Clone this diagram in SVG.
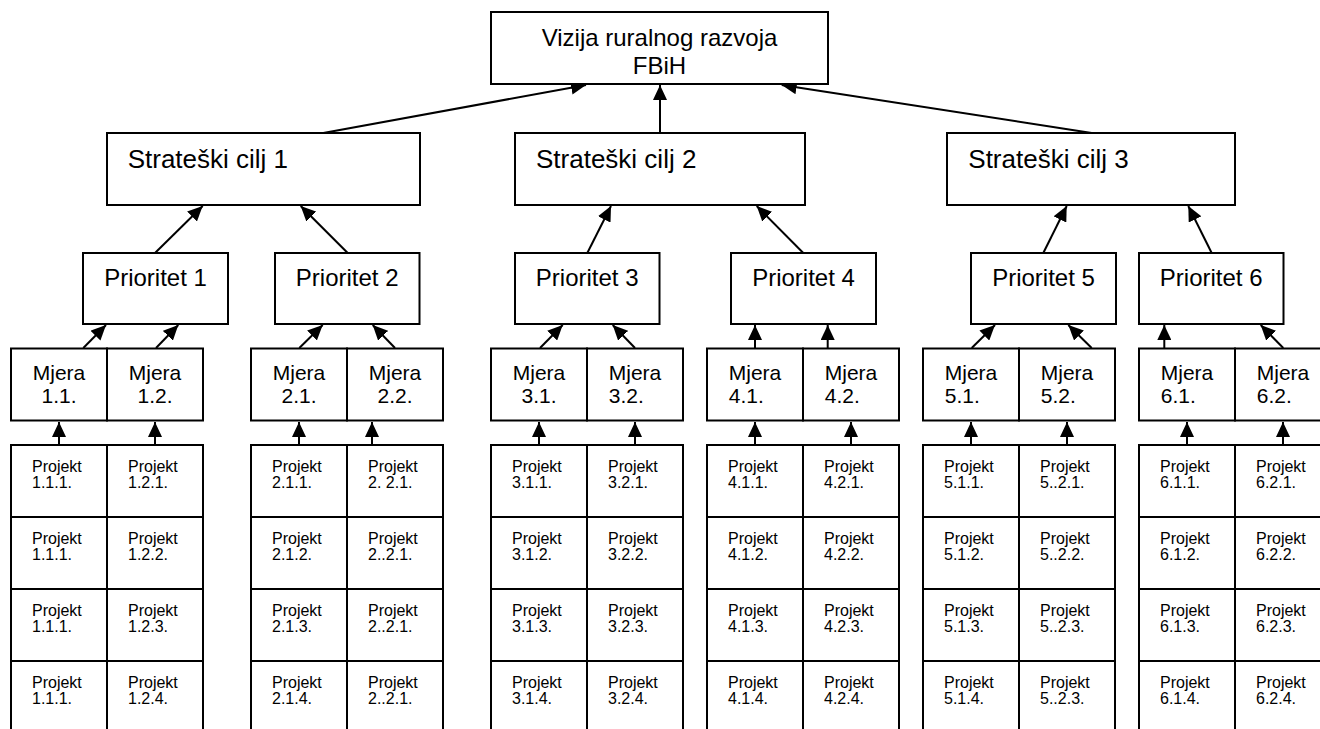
<svg xmlns="http://www.w3.org/2000/svg" width="1320" height="729" viewBox="0 0 1320 729">
<defs>
<marker id="ah" markerUnits="userSpaceOnUse" markerWidth="15" markerHeight="14" refX="15" refY="7" orient="auto">
<path d="M0,0 L15,7 L0,14 z" fill="#000"/>
</marker>
<style>
.box{fill:#fff;stroke:#000;stroke-width:2}
.c{stroke:#000;stroke-width:2;fill:none;marker-end:url(#ah)}
text{font-family:"Liberation Sans",Arial,sans-serif;fill:#000}
.f24{font-size:24px}.f26{font-size:26px}.f21{font-size:21px}.f16{font-size:16px}
.m{text-anchor:middle}
</style>
</defs>
<rect width="1320" height="729" fill="#fff"/>

<g id="connectors">
<line class="c" x1="323.3" y1="133" x2="586" y2="85"/>
<line class="c" x1="660" y1="133" x2="660" y2="85"/>
<line class="c" x1="1091.7" y1="133" x2="781.7" y2="85"/>
<line class="c" x1="155" y1="253" x2="202.7" y2="206"/>
<line class="c" x1="347.7" y1="253" x2="300.7" y2="206"/>
<line class="c" x1="587.3" y1="253" x2="611" y2="206"/>
<line class="c" x1="803.3" y1="253" x2="756.7" y2="206"/>
<line class="c" x1="1043.3" y1="253" x2="1066.7" y2="206"/>
<line class="c" x1="1211.7" y1="253" x2="1188.3" y2="206"/>
<line class="c" x1="83.3" y1="348" x2="106" y2="325"/>
<line class="c" x1="156" y1="348" x2="178.3" y2="325"/>
<line class="c" x1="299.3" y1="348" x2="322.7" y2="325"/>
<line class="c" x1="395" y1="348" x2="372.7" y2="325"/>
<line class="c" x1="540" y1="348" x2="562.7" y2="325"/>
<line class="c" x1="635" y1="348" x2="612.7" y2="325"/>
<line class="c" x1="755" y1="348" x2="755" y2="325"/>
<line class="c" x1="827.7" y1="348" x2="827.7" y2="325"/>
<line class="c" x1="971.7" y1="348" x2="995" y2="325"/>
<line class="c" x1="1091.7" y1="348" x2="1068.3" y2="325"/>
<line class="c" x1="1164.3" y1="348" x2="1164.3" y2="325"/>
<line class="c" x1="1283.3" y1="348" x2="1260.7" y2="325"/>
<line class="c" x1="59" y1="445" x2="59" y2="422"/>
<line class="c" x1="155" y1="445" x2="155" y2="422"/>
<line class="c" x1="299" y1="445" x2="299" y2="422"/>
<line class="c" x1="372" y1="445" x2="372" y2="422"/>
<line class="c" x1="539" y1="445" x2="539" y2="422"/>
<line class="c" x1="635" y1="445" x2="635" y2="422"/>
<line class="c" x1="755" y1="445" x2="755" y2="422"/>
<line class="c" x1="851" y1="445" x2="851" y2="422"/>
<line class="c" x1="971" y1="445" x2="971" y2="422"/>
<line class="c" x1="1067" y1="445" x2="1067" y2="422"/>
<line class="c" x1="1187" y1="445" x2="1187" y2="422"/>
<line class="c" x1="1283" y1="445" x2="1283" y2="422"/>
</g>

<g id="vizija"><rect class="box" x="491" y="12" width="337" height="72"/>
<text class="f24 m" x="659.5" y="46">Vizija ruralnog razvoja</text>
<text class="f24 m" x="659.5" y="74">FBiH</text></g>

<g id="cilj1"><rect class="box" x="107" y="133" width="313" height="72"/><text class="f26" x="127.7" y="168.3">Strateški cilj 1</text></g>
<g id="cilj2"><rect class="box" x="515" y="133" width="290" height="72"/><text class="f26" x="536" y="168.3">Strateški cilj 2</text></g>
<g id="cilj3"><rect class="box" x="947" y="133" width="288" height="72"/><text class="f26" x="968.3" y="168.3">Strateški cilj 3</text></g>

<g id="prioritet1"><rect class="box" x="83" y="253" width="145" height="71"/><text class="f24 m" x="155.5" y="286">Prioritet 1</text></g>
<g id="prioritet2"><rect class="box" x="275" y="253" width="144.5" height="71"/><text class="f24 m" x="347.2" y="286">Prioritet 2</text></g>
<g id="prioritet3"><rect class="box" x="515" y="253" width="144.5" height="71"/><text class="f24 m" x="587.2" y="286">Prioritet 3</text></g>
<g id="prioritet4"><rect class="box" x="731" y="253" width="145" height="71"/><text class="f24 m" x="803.5" y="286">Prioritet 4</text></g>
<g id="prioritet5"><rect class="box" x="971" y="253" width="145" height="71"/><text class="f24 m" x="1043.5" y="286">Prioritet 5</text></g>
<g id="prioritet6"><rect class="box" x="1139" y="253" width="144.5" height="71"/><text class="f24 m" x="1211.2" y="286">Prioritet 6</text></g>

<g id="mjera-1-1"><rect class="box" x="11" y="348.5" width="96" height="72"/><text class="f21 m" x="59" y="380">Mjera</text><text class="f21 m" x="59" y="403.3">1.1.</text></g>
<g id="mjera-1-2"><rect class="box" x="107" y="348.5" width="96" height="72"/><text class="f21 m" x="155" y="380">Mjera</text><text class="f21 m" x="155" y="403.3">1.2.</text></g>
<g id="mjera-2-1"><rect class="box" x="251" y="348.5" width="96" height="72"/><text class="f21 m" x="299" y="380">Mjera</text><text class="f21 m" x="299" y="403.3">2.1.</text></g>
<g id="mjera-2-2"><rect class="box" x="347" y="348.5" width="96" height="72"/><text class="f21 m" x="395" y="380">Mjera</text><text class="f21 m" x="395" y="403.3">2.2.</text></g>
<g id="mjera-3-1"><rect class="box" x="491" y="348.5" width="96" height="72"/><text class="f21 m" x="539" y="380">Mjera</text><text class="f21 m" x="539" y="403.3">3.1.</text></g>
<g id="mjera-3-2"><rect class="box" x="587" y="348.5" width="96" height="72"/><text class="f21 m" x="635" y="380">Mjera</text><text class="f21" x="608.8" y="403.3">3.2.</text></g>
<g id="mjera-4-1"><rect class="box" x="707" y="348.5" width="96" height="72"/><text class="f21 m" x="755" y="380">Mjera</text><text class="f21" x="728.8" y="403.3">4.1.</text></g>
<g id="mjera-4-2"><rect class="box" x="803" y="348.5" width="96" height="72"/><text class="f21 m" x="851" y="380">Mjera</text><text class="f21" x="824.8" y="403.3">4.2.</text></g>
<g id="mjera-5-1"><rect class="box" x="923" y="348.5" width="96" height="72"/><text class="f21 m" x="971" y="380">Mjera</text><text class="f21" x="944.8" y="403.3">5.1.</text></g>
<g id="mjera-5-2"><rect class="box" x="1019" y="348.5" width="96" height="72"/><text class="f21 m" x="1067" y="380">Mjera</text><text class="f21" x="1040.8" y="403.3">5.2.</text></g>
<g id="mjera-6-1"><rect class="box" x="1139" y="348.5" width="96" height="72"/><text class="f21 m" x="1187" y="380">Mjera</text><text class="f21" x="1160.8" y="403.3">6.1.</text></g>
<g id="mjera-6-2"><rect class="box" x="1235" y="348.5" width="96" height="72"/><text class="f21 m" x="1283" y="380">Mjera</text><text class="f21" x="1256.8" y="403.3">6.2.</text></g>

<g id="projekt-1-1-1"><rect class="box" x="11" y="445" width="96" height="72"/><text class="f16" x="32" y="471.7">Projekt</text><text class="f16" x="32" y="487.5">1.1.1.</text></g>
<g id="projekt-1-1-2"><rect class="box" x="11" y="517" width="96" height="72"/><text class="f16" x="32" y="543.7">Projekt</text><text class="f16" x="32" y="559.5">1.1.1.</text></g>
<g id="projekt-1-1-3"><rect class="box" x="11" y="589" width="96" height="72"/><text class="f16" x="32" y="615.7">Projekt</text><text class="f16" x="32" y="631.5">1.1.1.</text></g>
<g id="projekt-1-1-4"><rect class="box" x="11" y="661" width="96" height="72"/><text class="f16" x="32" y="687.7">Projekt</text><text class="f16" x="32" y="703.5">1.1.1.</text></g>

<g id="projekt-1-2-1"><rect class="box" x="107" y="445" width="96" height="72"/><text class="f16" x="128" y="471.7">Projekt</text><text class="f16" x="128" y="487.5">1.2.1.</text></g>
<g id="projekt-1-2-2"><rect class="box" x="107" y="517" width="96" height="72"/><text class="f16" x="128" y="543.7">Projekt</text><text class="f16" x="128" y="559.5">1.2.2.</text></g>
<g id="projekt-1-2-3"><rect class="box" x="107" y="589" width="96" height="72"/><text class="f16" x="128" y="615.7">Projekt</text><text class="f16" x="128" y="631.5">1.2.3.</text></g>
<g id="projekt-1-2-4"><rect class="box" x="107" y="661" width="96" height="72"/><text class="f16" x="128" y="687.7">Projekt</text><text class="f16" x="128" y="703.5">1.2.4.</text></g>

<g id="projekt-2-1-1"><rect class="box" x="251" y="445" width="96" height="72"/><text class="f16" x="272" y="471.7">Projekt</text><text class="f16" x="272" y="487.5">2.1.1.</text></g>
<g id="projekt-2-1-2"><rect class="box" x="251" y="517" width="96" height="72"/><text class="f16" x="272" y="543.7">Projekt</text><text class="f16" x="272" y="559.5">2.1.2.</text></g>
<g id="projekt-2-1-3"><rect class="box" x="251" y="589" width="96" height="72"/><text class="f16" x="272" y="615.7">Projekt</text><text class="f16" x="272" y="631.5">2.1.3.</text></g>
<g id="projekt-2-1-4"><rect class="box" x="251" y="661" width="96" height="72"/><text class="f16" x="272" y="687.7">Projekt</text><text class="f16" x="272" y="703.5">2.1.4.</text></g>

<g id="projekt-2-2-1"><rect class="box" x="347" y="445" width="96" height="72"/><text class="f16" x="368" y="471.7">Projekt</text><text class="f16" x="368" y="487.5">2. 2.1.</text></g>
<g id="projekt-2-2-2"><rect class="box" x="347" y="517" width="96" height="72"/><text class="f16" x="368" y="543.7">Projekt</text><text class="f16" x="368" y="559.5">2..2.1.</text></g>
<g id="projekt-2-2-3"><rect class="box" x="347" y="589" width="96" height="72"/><text class="f16" x="368" y="615.7">Projekt</text><text class="f16" x="368" y="631.5">2..2.1.</text></g>
<g id="projekt-2-2-4"><rect class="box" x="347" y="661" width="96" height="72"/><text class="f16" x="368" y="687.7">Projekt</text><text class="f16" x="368" y="703.5">2..2.1.</text></g>

<g id="projekt-3-1-1"><rect class="box" x="491" y="445" width="96" height="72"/><text class="f16" x="512" y="471.7">Projekt</text><text class="f16" x="512" y="487.5">3.1.1.</text></g>
<g id="projekt-3-1-2"><rect class="box" x="491" y="517" width="96" height="72"/><text class="f16" x="512" y="543.7">Projekt</text><text class="f16" x="512" y="559.5">3.1.2.</text></g>
<g id="projekt-3-1-3"><rect class="box" x="491" y="589" width="96" height="72"/><text class="f16" x="512" y="615.7">Projekt</text><text class="f16" x="512" y="631.5">3.1.3.</text></g>
<g id="projekt-3-1-4"><rect class="box" x="491" y="661" width="96" height="72"/><text class="f16" x="512" y="687.7">Projekt</text><text class="f16" x="512" y="703.5">3.1.4.</text></g>

<g id="projekt-3-2-1"><rect class="box" x="587" y="445" width="96" height="72"/><text class="f16" x="608" y="471.7">Projekt</text><text class="f16" x="608" y="487.5">3.2.1.</text></g>
<g id="projekt-3-2-2"><rect class="box" x="587" y="517" width="96" height="72"/><text class="f16" x="608" y="543.7">Projekt</text><text class="f16" x="608" y="559.5">3.2.2.</text></g>
<g id="projekt-3-2-3"><rect class="box" x="587" y="589" width="96" height="72"/><text class="f16" x="608" y="615.7">Projekt</text><text class="f16" x="608" y="631.5">3.2.3.</text></g>
<g id="projekt-3-2-4"><rect class="box" x="587" y="661" width="96" height="72"/><text class="f16" x="608" y="687.7">Projekt</text><text class="f16" x="608" y="703.5">3.2.4.</text></g>

<g id="projekt-4-1-1"><rect class="box" x="707" y="445" width="96" height="72"/><text class="f16" x="728" y="471.7">Projekt</text><text class="f16" x="728" y="487.5">4.1.1.</text></g>
<g id="projekt-4-1-2"><rect class="box" x="707" y="517" width="96" height="72"/><text class="f16" x="728" y="543.7">Projekt</text><text class="f16" x="728" y="559.5">4.1.2.</text></g>
<g id="projekt-4-1-3"><rect class="box" x="707" y="589" width="96" height="72"/><text class="f16" x="728" y="615.7">Projekt</text><text class="f16" x="728" y="631.5">4.1.3.</text></g>
<g id="projekt-4-1-4"><rect class="box" x="707" y="661" width="96" height="72"/><text class="f16" x="728" y="687.7">Projekt</text><text class="f16" x="728" y="703.5">4.1.4.</text></g>

<g id="projekt-4-2-1"><rect class="box" x="803" y="445" width="96" height="72"/><text class="f16" x="824" y="471.7">Projekt</text><text class="f16" x="824" y="487.5">4.2.1.</text></g>
<g id="projekt-4-2-2"><rect class="box" x="803" y="517" width="96" height="72"/><text class="f16" x="824" y="543.7">Projekt</text><text class="f16" x="824" y="559.5">4.2.2.</text></g>
<g id="projekt-4-2-3"><rect class="box" x="803" y="589" width="96" height="72"/><text class="f16" x="824" y="615.7">Projekt</text><text class="f16" x="824" y="631.5">4.2.3.</text></g>
<g id="projekt-4-2-4"><rect class="box" x="803" y="661" width="96" height="72"/><text class="f16" x="824" y="687.7">Projekt</text><text class="f16" x="824" y="703.5">4.2.4.</text></g>

<g id="projekt-5-1-1"><rect class="box" x="923" y="445" width="96" height="72"/><text class="f16" x="944" y="471.7">Projekt</text><text class="f16" x="944" y="487.5">5.1.1.</text></g>
<g id="projekt-5-1-2"><rect class="box" x="923" y="517" width="96" height="72"/><text class="f16" x="944" y="543.7">Projekt</text><text class="f16" x="944" y="559.5">5.1.2.</text></g>
<g id="projekt-5-1-3"><rect class="box" x="923" y="589" width="96" height="72"/><text class="f16" x="944" y="615.7">Projekt</text><text class="f16" x="944" y="631.5">5.1.3.</text></g>
<g id="projekt-5-1-4"><rect class="box" x="923" y="661" width="96" height="72"/><text class="f16" x="944" y="687.7">Projekt</text><text class="f16" x="944" y="703.5">5.1.4.</text></g>

<g id="projekt-5-2-1"><rect class="box" x="1019" y="445" width="96" height="72"/><text class="f16" x="1040" y="471.7">Projekt</text><text class="f16" x="1040" y="487.5">5..2.1.</text></g>
<g id="projekt-5-2-2"><rect class="box" x="1019" y="517" width="96" height="72"/><text class="f16" x="1040" y="543.7">Projekt</text><text class="f16" x="1040" y="559.5">5..2.2.</text></g>
<g id="projekt-5-2-3"><rect class="box" x="1019" y="589" width="96" height="72"/><text class="f16" x="1040" y="615.7">Projekt</text><text class="f16" x="1040" y="631.5">5..2.3.</text></g>
<g id="projekt-5-2-4"><rect class="box" x="1019" y="661" width="96" height="72"/><text class="f16" x="1040" y="687.7">Projekt</text><text class="f16" x="1040" y="703.5">5..2.3.</text></g>

<g id="projekt-6-1-1"><rect class="box" x="1139" y="445" width="96" height="72"/><text class="f16" x="1160" y="471.7">Projekt</text><text class="f16" x="1160" y="487.5">6.1.1.</text></g>
<g id="projekt-6-1-2"><rect class="box" x="1139" y="517" width="96" height="72"/><text class="f16" x="1160" y="543.7">Projekt</text><text class="f16" x="1160" y="559.5">6.1.2.</text></g>
<g id="projekt-6-1-3"><rect class="box" x="1139" y="589" width="96" height="72"/><text class="f16" x="1160" y="615.7">Projekt</text><text class="f16" x="1160" y="631.5">6.1.3.</text></g>
<g id="projekt-6-1-4"><rect class="box" x="1139" y="661" width="96" height="72"/><text class="f16" x="1160" y="687.7">Projekt</text><text class="f16" x="1160" y="703.5">6.1.4.</text></g>

<g id="projekt-6-2-1"><rect class="box" x="1235" y="445" width="96" height="72"/><text class="f16" x="1256" y="471.7">Projekt</text><text class="f16" x="1256" y="487.5">6.2.1.</text></g>
<g id="projekt-6-2-2"><rect class="box" x="1235" y="517" width="96" height="72"/><text class="f16" x="1256" y="543.7">Projekt</text><text class="f16" x="1256" y="559.5">6.2.2.</text></g>
<g id="projekt-6-2-3"><rect class="box" x="1235" y="589" width="96" height="72"/><text class="f16" x="1256" y="615.7">Projekt</text><text class="f16" x="1256" y="631.5">6.2.3.</text></g>
<g id="projekt-6-2-4"><rect class="box" x="1235" y="661" width="96" height="72"/><text class="f16" x="1256" y="687.7">Projekt</text><text class="f16" x="1256" y="703.5">6.2.4.</text></g>
</svg>
